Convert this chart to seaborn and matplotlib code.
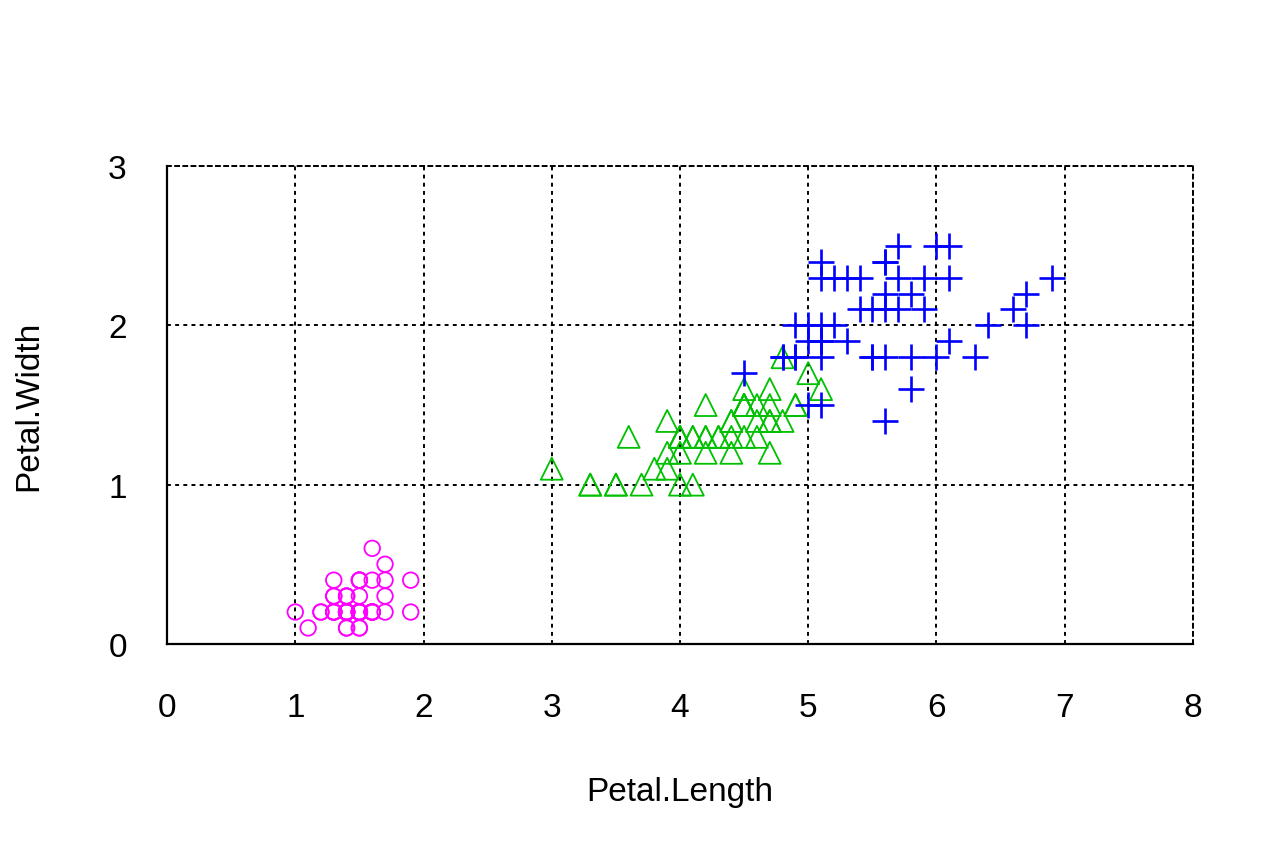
import pandas as pd
import matplotlib.pyplot as plt
import seaborn as sns

# iris petal measurements, per species
setosa_len = [1.4, 1.4, 1.3, 1.5, 1.4, 1.7, 1.4, 1.5, 1.4, 1.5, 1.5, 1.6, 1.4, 1.1, 1.2, 1.5, 1.3,
              1.4, 1.7, 1.5, 1.7, 1.5, 1.0, 1.7, 1.9, 1.6, 1.6, 1.5, 1.4, 1.6, 1.6, 1.5, 1.5, 1.4,
              1.5, 1.2, 1.3, 1.4, 1.3, 1.5, 1.3, 1.3, 1.3, 1.6, 1.9, 1.4, 1.6, 1.4, 1.5, 1.4]
setosa_wid = [0.2, 0.2, 0.2, 0.2, 0.2, 0.4, 0.3, 0.2, 0.2, 0.1, 0.2, 0.2, 0.1, 0.1, 0.2, 0.4, 0.4,
              0.3, 0.3, 0.3, 0.2, 0.4, 0.2, 0.5, 0.2, 0.2, 0.4, 0.2, 0.2, 0.2, 0.2, 0.4, 0.1, 0.2,
              0.2, 0.2, 0.2, 0.1, 0.2, 0.2, 0.3, 0.3, 0.2, 0.6, 0.4, 0.3, 0.2, 0.2, 0.2, 0.2]
versicolor_len = [4.7, 4.5, 4.9, 4.0, 4.6, 4.5, 4.7, 3.3, 4.6, 3.9, 3.5, 4.2, 4.0, 4.7, 3.6, 4.4, 4.5,
                  4.1, 4.5, 3.9, 4.8, 4.0, 4.9, 4.7, 4.3, 4.4, 4.8, 5.0, 4.5, 3.5, 3.8, 3.7, 3.9, 5.1,
                  4.5, 4.5, 4.7, 4.4, 4.1, 4.0, 4.4, 4.6, 4.0, 3.3, 4.2, 4.2, 4.2, 4.3, 3.0, 4.1]
versicolor_wid = [1.4, 1.5, 1.5, 1.3, 1.5, 1.3, 1.6, 1.0, 1.3, 1.4, 1.0, 1.5, 1.0, 1.4, 1.3, 1.4, 1.5,
                  1.0, 1.5, 1.1, 1.8, 1.3, 1.5, 1.2, 1.3, 1.4, 1.4, 1.7, 1.5, 1.0, 1.1, 1.0, 1.2, 1.6,
                  1.5, 1.6, 1.5, 1.3, 1.3, 1.3, 1.2, 1.4, 1.2, 1.0, 1.3, 1.2, 1.3, 1.3, 1.1, 1.3]
virginica_len = [6.0, 5.1, 5.9, 5.6, 5.8, 6.6, 4.5, 6.3, 5.8, 6.1, 5.1, 5.3, 5.5, 5.0, 5.1, 5.3, 5.5,
                 6.7, 6.9, 5.0, 5.7, 4.9, 6.7, 4.9, 5.7, 6.0, 4.8, 4.9, 5.6, 5.8, 6.1, 6.4, 5.6, 5.1,
                 5.6, 6.1, 5.6, 5.5, 4.8, 5.4, 5.6, 5.1, 5.1, 5.9, 5.7, 5.2, 5.0, 5.2, 5.4, 5.1]
virginica_wid = [2.5, 1.9, 2.1, 1.8, 2.2, 2.1, 1.7, 1.8, 1.8, 2.5, 2.0, 1.9, 2.1, 2.0, 2.4, 2.3, 1.8,
                 2.2, 2.3, 1.5, 2.3, 2.0, 2.0, 1.8, 2.1, 1.8, 1.8, 1.8, 2.1, 1.6, 1.9, 2.0, 2.2, 1.5,
                 1.4, 2.3, 2.4, 1.8, 1.8, 2.1, 2.4, 2.3, 1.9, 2.3, 2.5, 2.3, 1.9, 2.0, 2.3, 1.8]

x_ticks = [0, 1, 2, 3, 4, 5, 6, 7, 8]
y_ticks = [0, 1, 2, 3]

sns.set_style('white')
plt.rcParams['font.family'] = ['Liberation Sans', 'DejaVu Sans']

fig = plt.figure(figsize=(12.8, 8.53), dpi=100)
ax = fig.add_axes([0.1305, 0.244, 0.8015, 0.56])

ax.set_xlim(0, 8)
ax.set_ylim(0, 3)
ax.set_xticks(x_ticks)
ax.set_yticks(y_ticks)
ax.grid(True, color='black', linestyle=(0, (2, 2.2)), linewidth=1.4)
ax.set_axisbelow(True)

# setosa: open magenta circles
sns.scatterplot(x=setosa_len, y=setosa_wid, ax=ax, marker='o', s=125,
                facecolor='none', edgecolor='#FF00FF', linewidth=1.3, legend=False, zorder=3)
# versicolor: open green triangles
sns.scatterplot(x=versicolor_len, y=versicolor_wid, ax=ax, marker='^', s=250,
                facecolor='none', edgecolor='#00C000', linewidth=1.3, legend=False, zorder=3)
# virginica: blue plus signs
sns.scatterplot(x=virginica_len, y=virginica_wid, ax=ax, marker='+', s=340,
                color='#0000FF', linewidth=1.9, legend=False, zorder=3)

for side in ['left', 'bottom']:
    ax.spines[side].set_color('black')
    ax.spines[side].set_linewidth(1.6)
for side in ['top', 'right']:
    ax.spines[side].set_color('black')
    ax.spines[side].set_linestyle((0, (2, 2.2)))
    ax.spines[side].set_linewidth(1.4)

ax.tick_params(length=0, labelsize=24, colors='black')
ax.tick_params(axis='x', pad=35)
ax.tick_params(axis='y', pad=29)
ax.set_xlabel('Petal.Length', fontsize=24, labelpad=38, color='black')
ax.set_ylabel('Petal.Width', fontsize=24, labelpad=46, color='black')

plt.savefig('out.png', dpi=100)
plt.close()
